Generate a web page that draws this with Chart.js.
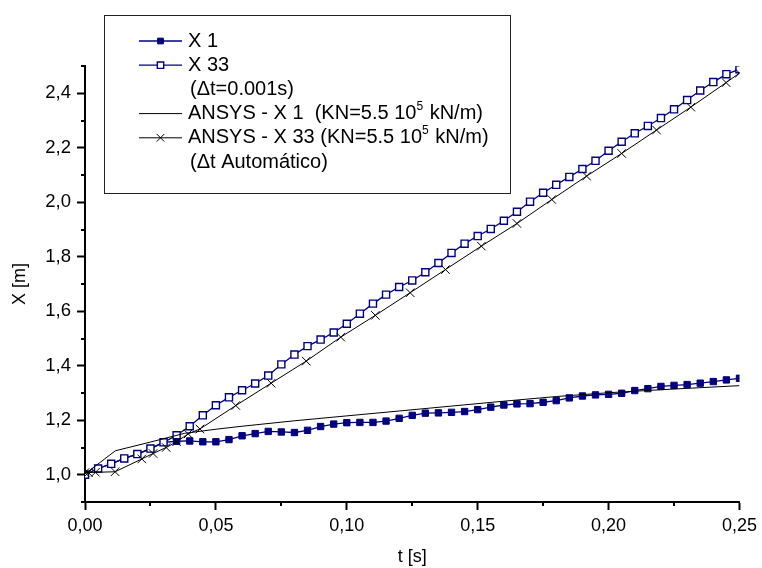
<!DOCTYPE html>
<html>
<head>
<meta charset="utf-8">
<title>X [m] x t [s]</title>
<script src="https://cdn.jsdelivr.net/npm/chart.js@4.4.0/dist/chart.umd.min.js"></script>
<style>
  html, body { margin: 0; padding: 0; background: #fff; }
  canvas { display: block; }
</style>
</head>
<body>
<canvas id="myChart" width="762" height="568"></canvas>
<script>
const ctx = document.querySelector('#myChart');

// explicit run (dt = 0.001 s), sampled every 0.005 s
const tRun = [0, 0.005, 0.01, 0.015, 0.02, 0.025, 0.03, 0.035, 0.04, 0.045,
  0.05, 0.055, 0.06, 0.065, 0.07, 0.075, 0.08, 0.085, 0.09, 0.095,
  0.1, 0.105, 0.11, 0.115, 0.12, 0.125, 0.13, 0.135, 0.14, 0.145,
  0.15, 0.155, 0.16, 0.165, 0.17, 0.175, 0.18, 0.185, 0.19, 0.195,
  0.2, 0.205, 0.21, 0.215, 0.22, 0.225, 0.23, 0.235, 0.24, 0.245, 0.25];
const x1Run = [1.000, 1.023, 1.040, 1.060, 1.076, 1.096, 1.119, 1.123, 1.124, 1.121,
  1.121, 1.129, 1.143, 1.151, 1.159, 1.157, 1.155, 1.163, 1.177, 1.186,
  1.191, 1.192, 1.192, 1.197, 1.207, 1.218, 1.226, 1.227, 1.229, 1.232,
  1.239, 1.248, 1.256, 1.260, 1.261, 1.266, 1.272, 1.282, 1.289, 1.293,
  1.295, 1.299, 1.309, 1.316, 1.324, 1.328, 1.331, 1.336, 1.342, 1.348, 1.354];
const x33Run = [1.000, 1.023, 1.040, 1.060, 1.076, 1.096, 1.119, 1.145, 1.178, 1.218,
  1.255, 1.284, 1.310, 1.335, 1.364, 1.405, 1.441, 1.472, 1.496, 1.522,
  1.554, 1.591, 1.628, 1.661, 1.689, 1.713, 1.743, 1.777, 1.814, 1.848,
  1.876, 1.902, 1.932, 1.965, 2.002, 2.035, 2.064, 2.093, 2.122, 2.152,
  2.189, 2.222, 2.253, 2.280, 2.309, 2.341, 2.375, 2.410, 2.441, 2.470, 2.488];

// ANSYS (automatic time step)
const tAnsysX1 = [0, 0.0116, 0.025, 0.038, 0.05, 0.06, 0.08, 0.10, 0.12, 0.14,
  0.16, 0.18, 0.20, 0.22, 0.25];
const xAnsysX1 = [1.003, 1.088, 1.120, 1.152, 1.167, 1.178, 1.198, 1.216, 1.234, 1.252,
  1.270, 1.287, 1.301, 1.312, 1.327];
const tAnsysX33 = [0, 0.0013, 0.004, 0.0115, 0.0217, 0.026, 0.031, 0.035, 0.0394, 0.0439,
  0.0576, 0.0711, 0.0845, 0.0977, 0.1109, 0.1242, 0.1377, 0.1514, 0.165, 0.1783,
  0.1916, 0.205, 0.2183, 0.2314, 0.2449, 0.25];
const xAnsysX33 = [1.008, 1.008, 1.009, 1.011, 1.058, 1.078, 1.100, 1.121, 1.150, 1.168,
  1.254, 1.336, 1.417, 1.505, 1.585, 1.668, 1.753, 1.839, 1.922, 2.010,
  2.096, 2.179, 2.265, 2.349, 2.439, 2.474];

const xTicks = [0, 0.05, 0.10, 0.15, 0.20, 0.25];
const xMinorTicks = [0.025, 0.075, 0.125, 0.175, 0.225];
const yTicks = [1.0, 1.2, 1.4, 1.6, 1.8, 2.0, 2.2, 2.4];
const yMinorTicks = [0.9, 1.1, 1.3, 1.5, 1.7, 1.9, 2.1, 2.3, 2.5];

const toPoints = (xs, ys) => xs.map((x, i) => ({ x, y: ys[i] }));

const FONT = '"Liberation Sans", Arial, sans-serif';
const navy = '#000080';

const datasets = [
    {
        label: 'X 1',
        data: toPoints(tRun, x1Run),
        borderColor: navy,
        backgroundColor: navy,
        borderWidth: 1.3,
        pointStyle: 'rect',
        pointRadius: 4.5,
        pointBorderWidth: 1,
        order: 3
    },
    {
        label: 'X 33',
        data: toPoints(tRun, x33Run),
        borderColor: navy,
        backgroundColor: '#ffffff',
        borderWidth: 1.3,
        pointStyle: 'rect',
        pointRadius: 5,
        pointBorderWidth: 1.4,
        order: 2
    },
    {
        label: 'ANSYS - X 1',
        data: toPoints(tAnsysX1, xAnsysX1),
        borderColor: '#000',
        backgroundColor: '#000',
        borderWidth: 1,
        pointRadius: 0,
        order: 1
    },
    {
        label: 'ANSYS - X 33',
        data: toPoints(tAnsysX33, xAnsysX33),
        borderColor: '#000',
        backgroundColor: '#000',
        borderWidth: 1,
        pointStyle: 'crossRot',
        pointRadius: 6,
        pointBorderWidth: 1,
        order: 0
    }
];

// legend rows: dataset index (or null for a continuation line) and text parts
const legendRows = [
    { ds: 0, parts: [['X 1']] },
    { ds: 1, parts: [['X 33']] },
    { ds: null, parts: [['(\u0394t=0.001s)']] },
    { ds: 2, parts: [['ANSYS - X 1  (KN=5.5 10'], ['5', true], [' kN/m)']] },
    { ds: 3, parts: [['ANSYS - X 33 (KN=5.5 10'], ['5', true], [' kN/m)']] },
    { ds: null, parts: [['(\u0394t Autom\u00e1tico)']] }
];

const boxLegend = {
    id: 'boxLegend',
    afterDraw(chart, args, opts) {
        const c = chart.ctx;
        const ds = chart.data.datasets;
        c.save();
        c.strokeStyle = '#222';
        c.lineWidth = 1;
        c.strokeRect(opts.left + 0.5, opts.top + 0.5, opts.right - opts.left, opts.bottom - opts.top);

        legendRows.forEach((row, i) => {
            const y = opts.firstRow + i * opts.rowGap;
            let tx = opts.textX;
            if (row.ds !== null) {
                const d = ds[row.ds];
                c.strokeStyle = d.borderColor;
                c.lineWidth = d.borderWidth;
                c.beginPath();
                c.moveTo(opts.lineX0, y);
                c.lineTo(opts.lineX1, y);
                c.stroke();
                if (d.pointRadius > 0) {
                    c.fillStyle = d.backgroundColor;
                    c.strokeStyle = d.borderColor;
                    c.lineWidth = d.pointBorderWidth;
                    Chart.helpers.drawPoint(c, {
                        pointStyle: d.pointStyle,
                        rotation: 0,
                        radius: d.pointRadius * 0.9,
                        borderWidth: d.pointBorderWidth
                    }, (opts.lineX0 + opts.lineX1) / 2, y);
                }
            } else {
                tx += 2;
            }
            c.fillStyle = '#000';
            c.textBaseline = 'middle';
            row.parts.forEach(([txt, sup]) => {
                c.font = sup ? '12px ' + FONT : '20px ' + FONT;
                c.fillText(txt, tx, sup ? y - 7 : y);
                tx += c.measureText(txt).width + (sup ? 1 : 0);
            });
        });
        c.restore();
    }
};

const minorTicks = {
    id: 'minorTicks',
    afterDraw(chart) {
        const c = chart.ctx;
        const { x, y } = chart.scales;
        c.save();
        c.strokeStyle = '#000';
        c.lineWidth = 2;
        c.beginPath();
        xMinorTicks.forEach(v => {
            const px = Math.round(x.getPixelForValue(v));
            c.moveTo(px, x.top);
            c.lineTo(px, x.top + 4);
        });
        yMinorTicks.forEach(v => {
            const py = Math.round(y.getPixelForValue(v));
            c.moveTo(y.right, py);
            c.lineTo(y.right - 4, py);
        });
        c.stroke();
        c.restore();
    }
};

const axisGrid = {
    drawOnChartArea: false,
    drawTicks: true,
    tickLength: 8,
    tickWidth: 2,
    tickColor: '#000',
    color: '#000'
};
const axisBorder = { display: true, color: '#000', width: 2 };

new Chart(ctx, {
    type: 'scatter',
    data: { datasets },
    options: {
        responsive: false,
        animation: false,
        devicePixelRatio: 1,
        showLine: true,
        layout: { padding: { top: 66, right: 20, left: 0, bottom: 0 } },
        elements: { line: { tension: 0 } },
        plugins: {
            legend: { display: false },
            tooltip: { enabled: false },
            boxLegend: {
                left: 104, top: 15, right: 510, bottom: 193,
                firstRow: 41, rowGap: 24.2,
                lineX0: 139, lineX1: 182, textX: 188
            }
        },
        scales: {
            x: {
                type: 'linear',
                min: 0,
                max: 0.25,
                afterBuildTicks: s => { s.ticks = xTicks.map(value => ({ value })); },
                afterFit: s => { s.height = 66; },
                grid: axisGrid,
                border: axisBorder,
                ticks: {
                    color: '#000',
                    padding: 5,
                    maxRotation: 0,
                    font: { family: FONT, size: 18 },
                    callback: v => v.toFixed(2).replace('.', ',')
                },
                title: {
                    display: true,
                    text: 't [s]',
                    color: '#000',
                    padding: { top: 0, bottom: 0 },
                    font: { family: FONT, size: 18 }
                }
            },
            y: {
                type: 'linear',
                min: 0.9,
                max: 2.5,
                afterBuildTicks: s => { s.ticks = yTicks.map(value => ({ value })); },
                afterFit: s => { s.width = 85; },
                grid: axisGrid,
                border: axisBorder,
                ticks: {
                    color: '#000',
                    padding: 6,
                    font: { family: FONT, size: 18.5 },
                    callback: v => v.toFixed(1).replace('.', ',')
                },
                title: {
                    display: true,
                    text: 'X [m]',
                    color: '#000',
                    padding: { top: 9, bottom: 0 },
                    font: { family: FONT, size: 18 }
                }
            }
        }
    },
    plugins: [minorTicks, boxLegend]
});
</script>
</body>
</html>
